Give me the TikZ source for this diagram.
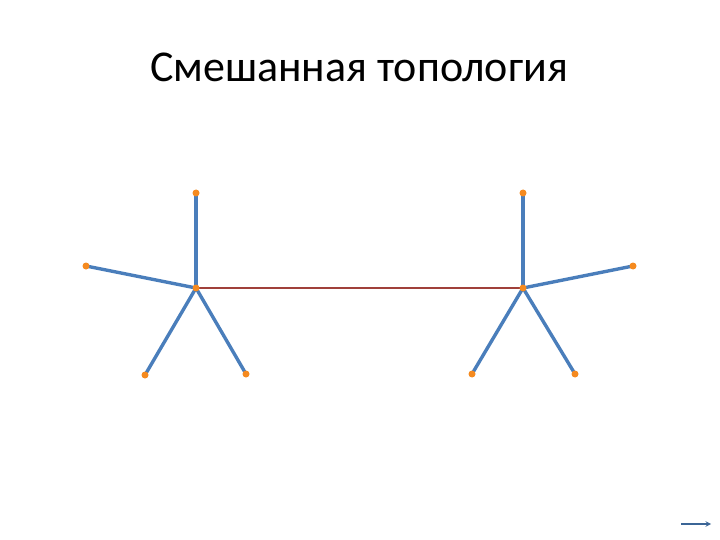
\documentclass[tikz,border=0pt]{standalone}
\usepackage{fontspec}
\setmainfont{Carlito}
\begin{document}
\begin{tikzpicture}[x=1pt,y=-1pt,
  dot/.style={circle,fill=dotorange,inner sep=0pt,minimum size=7pt},
  link/.style={draw=linkblue,line width=3.4pt},
  trunk/.style={draw=trunkred,line width=2.6pt}]
\definecolor{dotorange}{HTML}{F58A1F}
\definecolor{linkblue}{HTML}{4A7EBB}
\definecolor{trunkred}{HTML}{A0403A}
\useasboundingbox (0,0) rectangle (720,540);
\node[font=\fontsize{44}{52}\selectfont,anchor=base] (title) at (359,82) {Смешанная топология};
% left star
\coordinate (h1) at (196,288);
\coordinate (a1) at (196,193);
\coordinate (b1) at (86,266);
\coordinate (c1) at (145,375);
\coordinate (d1) at (246,374);
% right star
\coordinate (h2) at (523,288);
\coordinate (a2) at (523,193);
\coordinate (b2) at (633,266);
\coordinate (c2) at (472,374);
\coordinate (d2) at (575,374);
\draw[trunk] (h1) -- (h2);
\foreach \p in {a1,b1,c1,d1} \draw[link] (h1) -- (\p);
\foreach \p in {a2,b2,c2,d2} \draw[link] (h2) -- (\p);
\foreach \p in {h1,a1,b1,c1,d1,h2,a2,b2,c2,d2} \node[dot] at (\p) {};
% small nav arrow
\coordinate (n1) at (681,524);
\coordinate (n2) at (711,524);
\draw[linkblue!80!black,line width=1.4pt,-stealth] (n1) -- (n2);
\end{tikzpicture}
\end{document}
